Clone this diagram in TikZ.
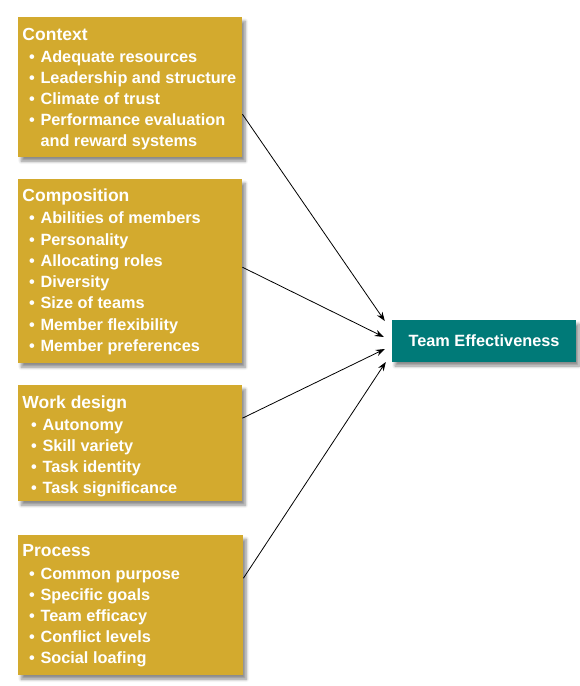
\documentclass[tikz,border=0pt]{standalone}
\usepackage{fontspec}
\setmainfont{Liberation Sans}
\usetikzlibrary{arrows.meta,shadows.blur,calc}
\definecolor{gold}{RGB}{211,170,46}
\definecolor{tealbox}{RGB}{0,122,120}
\begin{document}
\begin{tikzpicture}[x=1pt,y=-1pt,
 box/.style={fill=gold, draw=none, inner sep=0pt, anchor=north west,
   blur shadow={shadow xshift=3pt,shadow yshift=-4pt,shadow blur steps=6,shadow blur radius=3pt,shadow opacity=45}},
 ttl/.style={anchor=base west, inner sep=0pt, text=white, font=\fontsize{17.5}{20}\selectfont\bfseries},
 itm/.style={anchor=base west, inner sep=0pt, text=white, font=\fontsize{16.3}{20}\selectfont\bfseries},
 bul/.style={anchor=base, inner sep=0pt, text=white, font=\fontsize{16.3}{20}\selectfont\bfseries},
 arr/.style={-{Stealth[length=9pt,width=6.5pt]}, line width=0.8pt, black}]
\useasboundingbox (0,0) rectangle (580,686);

% boxes
\node[box, minimum width=224pt, minimum height=140pt] (ctx) at (18,17) {};
\node[box, minimum width=224pt, minimum height=184pt] (cmp) at (18,179) {};
\node[box, minimum width=224pt, minimum height=116pt] (wrk) at (18,385) {};
\node[box, minimum width=225pt, minimum height=140pt] (prc) at (18,535) {};
\node[fill=tealbox, draw=none, inner sep=0pt, minimum width=184pt, minimum height=42pt,
   blur shadow={shadow xshift=3pt,shadow yshift=-4pt,shadow blur steps=6,shadow blur radius=3pt,shadow opacity=45},
   text=white, font=\fontsize{16.3}{20}\selectfont\bfseries] (team) at (484,341) {Team Effectiveness};

% Context
\node[ttl] (ctx-t) at (22.3,40.8) {Context};
\foreach \s [count=\i] in {Adequate resources,Leadership and structure,Climate of trust,Performance evaluation}{
  \pgfmathsetmacro{\yy}{62.3+21*(\i-1)}
  \node[bul] (ctx-b\i) at (32,\yy) {•};
  \node[itm] (ctx-i\i) at (40.3,\yy) {\s};
}
\node[itm] (ctx-i5) at (40.3,146.5) {and reward systems};

% Composition
\node[ttl] (cmp-t) at (22.3,201.5) {Composition};
\foreach \s [count=\i] in {Abilities of members,Personality,Allocating roles,Diversity,Size of teams,Member flexibility,Member preferences}{
  \pgfmathsetmacro{\yy}{223.7+21.3*(\i-1)}
  \node[bul] (cmp-b\i) at (32,\yy) {•};
  \node[itm] (cmp-i\i) at (40.3,\yy) {\s};
}

% Work design
\node[ttl] (wrk-t) at (22.3,408.3) {Work design};
\foreach \s [count=\i] in {Autonomy,Skill variety,Task identity,Task significance}{
  \pgfmathsetmacro{\yy}{430+21.2*(\i-1)}
  \node[bul] (wrk-b\i) at (34,\yy) {•};
  \node[itm] (wrk-i\i) at (42.3,\yy) {\s};
}

% Process
\node[ttl] (prc-t) at (22.3,556.7) {Process};
\foreach \s [count=\i] in {Common purpose,Specific goals,Team efficacy,Conflict levels,Social loafing}{
  \pgfmathsetmacro{\yy}{579+21.2*(\i-1)}
  \node[bul] (prc-b\i) at (32,\yy) {•};
  \node[itm] (prc-i\i) at (40.3,\yy) {\s};
}

% connector endpoints
\coordinate (s1) at ([yshift=-27pt]ctx.east);
\coordinate (s2) at ([yshift=4pt]cmp.east);
\coordinate (s3) at ([yshift=25pt]wrk.east);
\coordinate (s4) at ([yshift=27pt]prc.east);
\coordinate (e1) at ([xshift=-7pt,yshift=20pt]team.west);
\coordinate (e2) at ([xshift=-8pt,yshift=4pt]team.west);
\coordinate (e3) at ([xshift=-7pt,yshift=-8pt]team.west);
\coordinate (e4) at ([xshift=-6pt,yshift=-21pt]team.west);
\draw[arr] (s1) -- (e1);
\draw[arr] (s2) -- (e2);
\draw[arr] (s3) -- (e3);
\draw[arr] (s4) -- (e4);
\end{tikzpicture}
\end{document}
